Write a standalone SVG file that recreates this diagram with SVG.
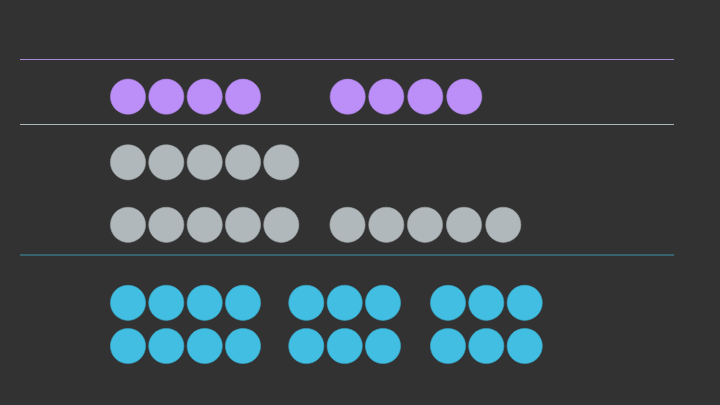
<svg xmlns="http://www.w3.org/2000/svg" width="720" height="405" viewBox="0 0 720 405">
<defs>
<style>
.p{fill:#bb8ef8;stroke:#a57fd8;stroke-width:0.6}
.g{fill:#b0b8bb;stroke:#9aa2a5;stroke-width:0.6}
.b{fill:#41bee2;stroke:#3aa8c8;stroke-width:0.6}
line{stroke-width:1.2}
</style>
</defs>
<rect width="720" height="405" fill="#323232"/>
<g id="connectors">
<line x1="20" y1="59.5" x2="674" y2="59.5" stroke="#a98bd6"/>
<line x1="20" y1="124.5" x2="674" y2="124.5" stroke="#aab4b8"/>
<line x1="20" y1="255" x2="674" y2="255" stroke="#3d93ab"/>
</g>
<g id="purple-row">
<circle class="p" cx="128" cy="96.7" r="17.6"/>
<circle class="p" cx="166.3" cy="96.7" r="17.6"/>
<circle class="p" cx="204.7" cy="96.7" r="17.6"/>
<circle class="p" cx="243" cy="96.7" r="17.6"/>
<circle class="p" cx="347.7" cy="96.7" r="17.6"/>
<circle class="p" cx="386.3" cy="96.7" r="17.6"/>
<circle class="p" cx="425.3" cy="96.7" r="17.6"/>
<circle class="p" cx="464.3" cy="96.7" r="17.6"/>
</g>
<g id="gray-row-1">
<circle class="g" cx="128" cy="162.3" r="17.6"/>
<circle class="g" cx="166.3" cy="162.3" r="17.6"/>
<circle class="g" cx="204.7" cy="162.3" r="17.6"/>
<circle class="g" cx="243" cy="162.3" r="17.6"/>
<circle class="g" cx="281.3" cy="162.3" r="17.6"/>
</g>
<g id="gray-row-2">
<circle class="g" cx="128" cy="224.8" r="17.6"/>
<circle class="g" cx="166.3" cy="224.8" r="17.6"/>
<circle class="g" cx="204.7" cy="224.8" r="17.6"/>
<circle class="g" cx="243" cy="224.8" r="17.6"/>
<circle class="g" cx="281.3" cy="224.8" r="17.6"/>
<circle class="g" cx="347.5" cy="224.8" r="17.6"/>
<circle class="g" cx="386.3" cy="224.8" r="17.6"/>
<circle class="g" cx="425" cy="224.8" r="17.6"/>
<circle class="g" cx="464" cy="224.8" r="17.6"/>
<circle class="g" cx="503.3" cy="224.8" r="17.6"/>
</g>
<g id="blue-rows">
<circle class="b" cx="128" cy="302.8" r="17.6"/>
<circle class="b" cx="166.3" cy="302.8" r="17.6"/>
<circle class="b" cx="204.7" cy="302.8" r="17.6"/>
<circle class="b" cx="243" cy="302.8" r="17.6"/>
<circle class="b" cx="306.3" cy="302.8" r="17.6"/>
<circle class="b" cx="344.7" cy="302.8" r="17.6"/>
<circle class="b" cx="383" cy="302.8" r="17.6"/>
<circle class="b" cx="448" cy="302.8" r="17.6"/>
<circle class="b" cx="486.3" cy="302.8" r="17.6"/>
<circle class="b" cx="524.7" cy="302.8" r="17.6"/>
<circle class="b" cx="128" cy="346" r="17.6"/>
<circle class="b" cx="166.3" cy="346" r="17.6"/>
<circle class="b" cx="204.7" cy="346" r="17.6"/>
<circle class="b" cx="243" cy="346" r="17.6"/>
<circle class="b" cx="306.3" cy="346" r="17.6"/>
<circle class="b" cx="344.7" cy="346" r="17.6"/>
<circle class="b" cx="383" cy="346" r="17.6"/>
<circle class="b" cx="448" cy="346" r="17.6"/>
<circle class="b" cx="486.3" cy="346" r="17.6"/>
<circle class="b" cx="524.7" cy="346" r="17.6"/>
</g>
</svg>
